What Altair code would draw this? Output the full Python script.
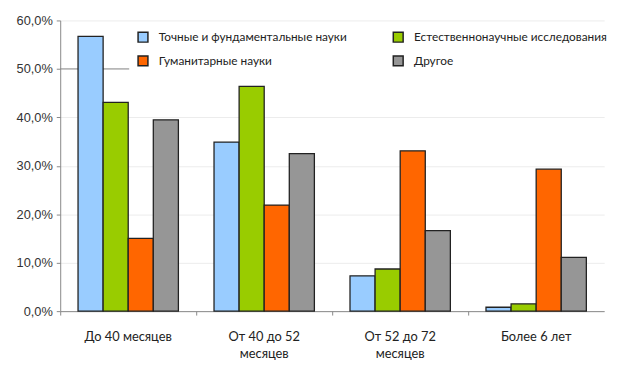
import altair as alt
import pandas as pd

categories = ["До  40 месяцев", "От 40 до 52 месяцев", "От 52 до 72 месяцев", "Более 6 лет"]
series = ["Точные и фундаментальные науки", "Естественнонаучные исследования",
          "Гуманитарные науки", "Другое"]
colors = ["#99ccff", "#99cc00", "#ff6600", "#969696"]
# legend is filled column by column: reorder so rows read as in the reference
legend_order = [series[0], series[2], series[1], series[3]]
legend_colors = [colors[0], colors[2], colors[1], colors[3]]

exact = [56.7, 34.9, 7.3, 0.8]
natural = [43.1, 46.4, 8.7, 1.5]
humanities = [15.0, 21.9, 33.1, 29.3]
other = [39.5, 32.5, 16.6, 11.1]

rule_values = [50]

rows = []
for s, vals in zip(series, [exact, natural, humanities, other]):
    for c, v in zip(categories, vals):
        rows.append({"cat": c, "series": s, "value": v})
df = pd.DataFrame(rows)

label_font = "Lato"

x_label_expr = ("indexof(datum.value, 'От') == 0 ? "
                "[slice(datum.value, 0, lastindexof(datum.value, ' ')), "
                "slice(datum.value, lastindexof(datum.value, ' ') + 1)] : datum.value")

y_scale = alt.Scale(domain=[0, 60], nice=False)

rule = alt.Chart(pd.DataFrame({"value": rule_values})).mark_rule(
    color="#8a8a8a", strokeWidth=1
).encode(y=alt.Y("value:Q", scale=y_scale))

bars = alt.Chart(df).mark_bar(stroke="#222222", strokeWidth=1.3).encode(
    x=alt.X("cat:N", sort=categories, title=None,
            scale=alt.Scale(paddingInner=0, paddingOuter=0),
            axis=alt.Axis(labelAngle=0, bandPosition=0, labelExpr=x_label_expr,
                          labelFont=label_font, labelFontSize=13, labelColor="#222222",
                          labelPadding=16, labelLineHeight=17,
                          domainColor="#888888", tickColor="#888888", tickSize=4,
                          grid=False)),
    xOffset=alt.XOffset("series:N", sort=series,
                        scale=alt.Scale(paddingInner=0, paddingOuter=0.71)),
    y=alt.Y("value:Q", title=None, scale=y_scale,
            axis=alt.Axis(values=[0, 10, 20, 30, 40, 50, 60],
                          labelExpr="replace(format(datum.value, '.1f'), '.', ',') + '%'",
                          labelFont="Liberation Sans", labelFontSize=13, labelColor="#333333",
                          labelPadding=4, tickSize=4, tickColor="#888888",
                          domainColor="#888888", gridColor="#ececec")),
    color=alt.Color("series:N",
                    scale=alt.Scale(domain=legend_order, range=legend_colors),
                    legend=alt.Legend(title=None, orient="none", legendX=70, legendY=3,
                                      columns=2, columnPadding=44, rowPadding=8,
                                      symbolType="square", symbolSize=100,
                                      symbolStrokeColor="#222222", symbolStrokeWidth=1.5,
                                      labelFont=label_font, labelFontSize=12,
                                      labelColor="#222222", labelOffset=10, labelLimit=400,
                                      padding=8, fillColor="white")),
)

chart = alt.layer(rule, bars).properties(
    width=552, height=295,
    padding={"left": 8, "top": 4, "right": 0, "bottom": 0},
).configure_view(stroke=None)

chart.save("out.html", embed_options={"renderer": "svg", "actions": False})
